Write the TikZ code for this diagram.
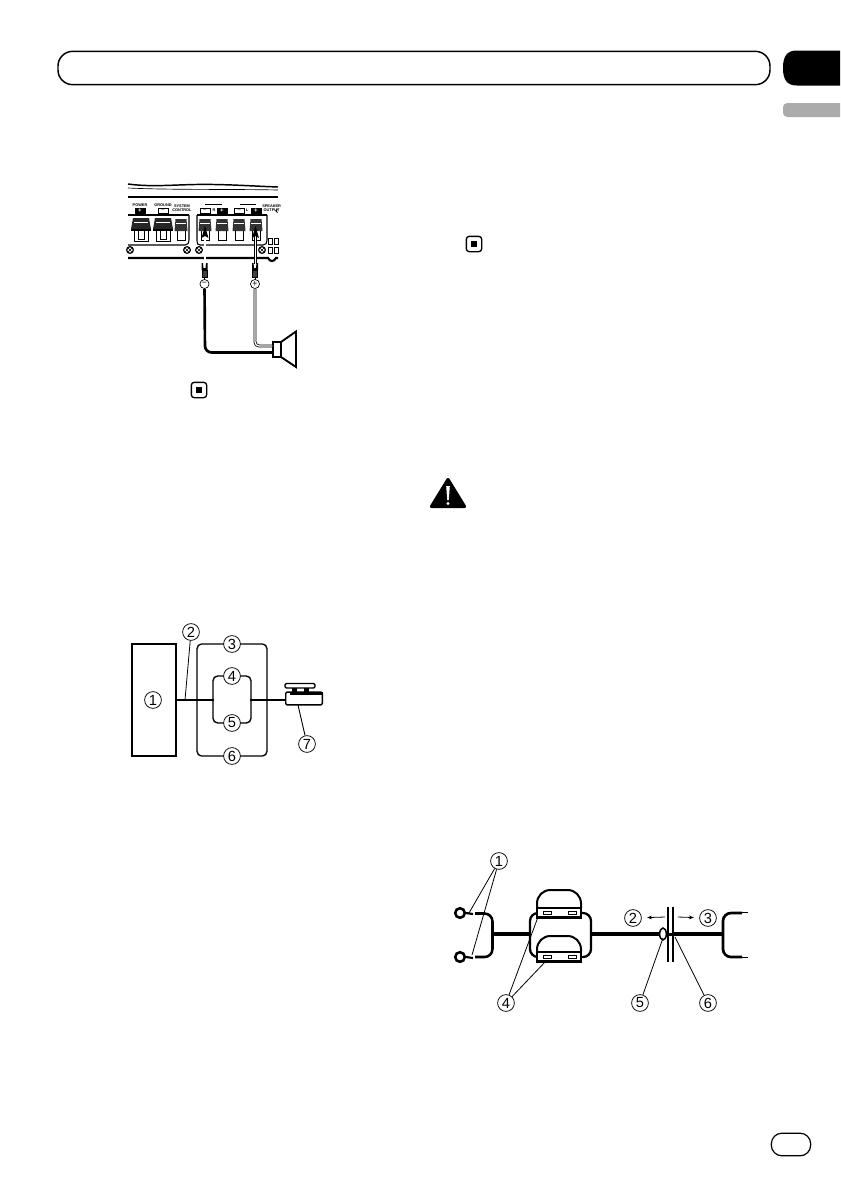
\documentclass[tikz,border=0pt]{standalone}
\usepackage{fontspec}
\setmainfont{Liberation Sans}
\usetikzlibrary{arrows.meta,calc,shapes.geometric}
\tikzset{
  x=0.75pt,y=-0.75pt,
  num/.style={circle,draw=black,line width=0.55pt,fill=white,inner sep=0pt,minimum size=12.6pt,font=\fontsize{11}{11}\selectfont},
  sign/.style={circle,draw=black,line width=0.5pt,fill=white,inner sep=0pt,minimum size=6.8pt,font=\fontsize{6.5}{6.5}\selectfont},
  leader/.style={draw=black,line width=0.6pt},
  thin wire/.style={draw=black,line width=1pt,rounded corners=3.5pt},
  fat wire/.style={draw=black,line width=2.6pt},
  mid wire/.style={draw=black,line width=1.9pt,rounded corners=6pt},
  hollow wire/.style={draw=black,line width=0.6pt,double=white,double distance=1pt,rounded corners=3pt},
  amp label/.style={inner sep=0pt,font=\bfseries\fontsize{2.9}{3.3}\selectfont,align=center},
  sign box/.style={draw=black,line width=0.5pt,inner sep=0pt,minimum width=7.5pt,minimum height=3.8pt,font=\bfseries\fontsize{4.5}{3}\selectfont},
  sign box dark/.style={sign box,fill=black,text=white},
  ampline/.style={draw=black,line width=0.8pt},
  screw/.style={circle,draw=black,line width=0.9pt,fill=white,inner sep=0pt,minimum size=5pt},
  stopicon/.style={draw=black,line width=1pt,rounded corners=2.2pt,minimum size=11.5pt,inner sep=0pt,fill=white},
  updouble/.style={draw=black,line width=0.5pt,double=white,double distance=0.9pt},
  ringterm/.style={circle,draw=black,line width=1.9pt,fill=white,inner sep=0pt,minimum size=7.2pt},
  slotbox/.style={draw=black,line width=0.6pt,fill=white,inner sep=0pt,minimum width=6pt,minimum height=2.4pt},
}
\begin{document}
\begin{tikzpicture}
\useasboundingbox[fill=white] (0,0) rectangle (840,1190);
% ---------- header
\node[draw=black,line width=1.1pt,rounded corners=11pt,minimum width=534pt,minimum height=25pt,inner sep=0pt] (bar) at (414,68) {};
\fill[black] (840,50.5) -- (797,50.5) .. controls (787,50.5) and (783,56) .. (783,68) .. controls (783,80) and (787,85.5) .. (797,85.5) -- (840,85.5) -- cycle;
\fill[black!33] (840,103) -- (787,103) .. controls (784,103) and (783,105) .. (783,110) .. controls (783,115) and (784,117) .. (787,117) -- (840,117) -- cycle;
\node[draw=black,line width=0.9pt,rounded corners=8pt,minimum width=29.5pt,minimum height=17pt,inner sep=0pt] (pageoval) at (791,1144.5) {};
% ---------- amplifier
\begin{scope}
\draw[ampline,line width=1.1pt] (128,184) .. controls (150,187) and (170,185) .. (195,184.5) .. controls (225,184) and (250,186) .. (278,187);
\draw[ampline,line width=0.5pt] (128,188) .. controls (170,190) and (230,189) .. (278,190);
\draw[ampline] (128,197) -- (278,197);
% panels
\draw[ampline] (128,245) -- (185,245) .. controls (188,245) and (189,243) .. (189,240) -- (189,215);
\draw[ampline] (128,215) -- (189,215);
\draw[ampline] (197,215) -- (267,215);
\draw[ampline] (197,215) -- (197,241) .. controls (197,244) and (198,245) .. (200,245) -- (263,245) .. controls (266,245) and (267,243) .. (267,240) -- (267,215);
\draw[black,line width=1.6pt] (128,258) -- (268,258) .. controls (270,262) and (274,262) .. (276,258) -- (278,258);
\foreach \i/\p in {a/130,b/187,c/199,d/262}{
  \node[screw] (screw\i) at (\p,250) {};
  \draw[line width=0.5pt] (\p-1.8,248.2) -- (\p+1.8,251.8) (\p+1.8,248.2) -- (\p-1.8,251.8);
}
% big terminals
\foreach \p in {141,163}{
  \fill[black!85] (\p-8,218) -- (\p+8,218) -- (\p+10,229) -- (\p-10,229) -- cycle;
  \draw[white,line width=0.6pt] (\p-7,222) -- (\p+7,222);
  \draw[ampline,line width=0.5pt] (\p-7,229) -- (\p-7,241) -- (\p+7,241) -- (\p+7,229);
  \draw[ampline,line width=0.5pt] (\p-3,229) -- (\p-3,239) -- (\p+3,239) -- (\p+3,229);
  \draw[black,line width=1pt] (\p-10,230) -- (\p+10,230);
}
% small terminals
\foreach \p in {181,205,222,239,256}{
  \fill[black!80] (\p-5.5,219) -- (\p+5.5,219) -- (\p+6.5,231) -- (\p-6.5,231) -- cycle;
  \draw[white,line width=0.5pt] (\p-5,223) -- (\p+5,223);
  \draw[ampline,line width=0.5pt] (\p-4,231) -- (\p-4,240) -- (\p+4,240) -- (\p+4,231);
}
\draw[ampline,line width=0.4pt] (205,204.5) -- (222,204.5) (240,204.5) -- (256,204.5);
\node[amp label] (lpower) at (140,205.5) {POWER};
\node[sign box dark] (bpower) at (140,210.5) {+};
\node[amp label] (lground) at (163,205.5) {GROUND};
\node[sign box] (bground) at (163,210.5) {−};
\node[amp label] (lsystem) at (182,208) {SYSTEM\\CONTROL};
\node[sign box] (b1) at (205,210.5) {−};
\node[amp label] (lr) at (214,210.5) {R};
\node[sign box dark] (b2) at (222,210.5) {+};
\node[sign box] (b3) at (239,210.5) {−};
\node[amp label] (ll) at (247,210.5) {L};
\node[sign box dark] (b4) at (256,210.5) {+};
\node[amp label,anchor=west] (lspk) at (262,208) {SPEAKER\\OUTPUT};
\foreach \i/\p/\q in {a/270/241,b/276/241,c/270/250,d/276/250}{
  \node[draw=black,line width=0.4pt,inner sep=0pt,minimum width=3pt,minimum height=4.8pt] (sq\i) at (\p,\q) {};
}
\draw[black,line width=0.7pt] (277.5,212.5) arc (90:270:1.6);
\end{scope}
% spade connectors
\foreach \n/\p in {l/204.5,r/255}{
  \fill[black] (\p-3,263) -- (\p-3,270) -- (\p+3,270) -- (\p+3,263) -- (\p+1.5,263) -- (\p+1,268) -- (\p-1,268) -- (\p-1.5,263) -- cycle;
  \node[draw=black,fill=black!75,inner sep=0pt,minimum width=4pt,minimum height=5.5pt] (spade\n) at (\p,274) {};
  \draw[black,line width=0.5pt] (\p,277.5) -- (\p,280);
}
\coordinate (tipl) at (205,226);
\coordinate (tipr) at (255.5,226);
\draw[updouble] (205,264) -- (205,236);
\draw[updouble] (255.5,264) -- (255.5,236);
\fill[black] (tipl) -- (201.5,238) -- (205,236) -- (208.5,238) -- cycle;
\fill[black] (tipr) -- (252,238) -- (255.5,236) -- (259,238) -- cycle;
\node[sign] (minus) at (204.5,284) {−};
\node[sign] (plus) at (255,284) {+};
% speaker
\draw[black,line width=1.4pt,fill=white] (281,342) -- (296,331.5) -- (296,367) -- (281,357) -- cycle;
\node[draw=black,line width=1.4pt,fill=white,inner sep=0pt,minimum width=5.6pt,minimum height=11.4pt] (spk) at (277,349.5) {};
\draw[hollow wire] (plus) -- (255,346) -- (spk.west |- 0,346);
\draw[black,line width=2pt,rounded corners=5pt] (minus) -- (205,352.5) -- (spk.west |- 0,352.5);
\node[stopicon] (stopa) at (199,390) {};
\fill[black] (196,387) rectangle (202,393);
\node[stopicon] (stopb) at (474,244) {};
\fill[black] (471,241) rectangle (477,247);
% warning
\draw[black,fill=black,line width=2.4pt,line join=round] (448,479.5) -- (431.5,506.5) -- (464.5,506.5) -- cycle;
\fill[white] (446.2,486) -- (449.8,486) -- (448.8,500) -- (447.2,500) -- cycle;
\fill[white] (448,503.5) circle (1.6);
% ---------- fuse diagram
\node[draw=black,line width=1.5pt,fill=white,minimum width=32.5pt,minimum height=84pt,inner sep=0pt] (unit) at (154,699.5) {};
\node[num] (f1) at (153,700) {1};
\node[draw=black,fill=white,line width=1pt,inner sep=0pt,minimum width=27.5pt,minimum height=9.6pt,rounded corners=1pt] (fusebox) at (304,698.5) {};
\fill[black] (290,691.5) rectangle (323,695);
\draw[black,line width=1.1pt,rounded corners=1pt] (285,683.5) -- (315,683.5) -- (315,688) -- (285,688) -- cycle;
\fill[black] (292,688) rectangle (297,692);
\fill[black] (304,688) rectangle (309,692);
\coordinate (jl) at (197,700); \coordinate (jr) at (267,700);
\coordinate (il) at (213,700); \coordinate (ir) at (251,700);
\draw[thin wire] (unit.east |- 0,700) -- (il);
\draw[thin wire] (ir) -- (fusebox.west |- 0,700);
\draw[thin wire] (jl) -- (197,644) -- (267,644) -- (jr);
\draw[thin wire] (jl) -- (197,756) -- (267,756) -- (jr);
\draw[thin wire] (il) -- (213,676) -- (251,676) -- (ir);
\draw[thin wire] (il) -- (213,723) -- (251,723) -- (ir);
\foreach \c in {jl,jr,il,ir}{\fill[black] (\c) circle (1.3);}
\node[num] (f2) at (191,632) {2};
\node[num] (f3) at (232,644) {3};
\node[num] (f4) at (232,676) {4};
\node[num] (f5) at (232,723) {5};
\node[num] (f6) at (232,756) {6};
\node[num] (f7) at (307,744) {7};
\coordinate (f2end) at (185,700);
\coordinate (f7end) at (298,705);
\draw[leader] (f2) -- (f2end);
\draw[leader,line width=0.7pt] (f7) -- (f7end);
% ---------- ferrite diagram
\draw[mid wire] (475,913.5) -- (492.5,913.5) -- (492.5,957) -- (475,957);
\draw[fat wire] (492,934) -- (530,934);
\draw[fat wire] (591,934) -- (723,934);
\draw[mid wire,line width=1.7pt] (530,934) -- (530,913) -- (591,913) -- (591,957) -- (530,957) -- cycle;
\draw[mid wire,line width=2pt] (742,913) -- (723,913) -- (723,957) -- (742,957);
\draw[black,line width=0.6pt] (740,912.5) -- (748,912.5) (740,957) -- (748,957);
\foreach \n/\q in {a/913,b/957}{
  \node[ringterm] (ring\n) at (460,\q) {};
  \draw[black,line width=1.6pt] (ring\n.east) -- (473,\q+1);
}
\foreach \n/\t/\h in {a/890/28,b/936/26}{
  \draw[black,line width=1.5pt,fill=white,rounded corners=10pt] (537,\t+\h-10) -- (537,\t) -- (581,\t) -- (581,\t+\h-10);
  \draw[black,line width=0.8pt,fill=white] (537,\t+\h-10) rectangle (581,\t+\h);
  \fill[black] (537,\t+\h-2.5) rectangle (581,\t+\h+0.8);
  \node[slotbox] (slot1\n) at (547,\t+\h-5.5) {};
  \node[slotbox] (slot2\n) at (572,\t+\h-5.5) {};
}
\fill[white] (668,930) rectangle (673,938);
\draw[black,line width=1.1pt] (668,907) -- (668,962) (673,907) -- (673,962);
\fill[black] (667,932.5) rectangle (674,935.5);
\node[ellipse,draw=black,line width=1.1pt,fill=white,inner sep=0pt,minimum width=5pt,minimum height=9pt] (grommet) at (663,934) {};
\node[num] (c1) at (499,861) {1};
\node[num] (c2) at (633,918) {2};
\node[num] (c3) at (708,918) {3};
\node[num] (c4) at (506,1003) {4};
\node[num] (c5) at (640,1003) {5};
\node[num] (c6) at (708,1003) {6};
\coordinate (wallL) at (665,917);
\coordinate (wallR) at (678,917);
\draw[black,line width=0.6pt,-{Stealth[length=3.6pt,width=2.8pt]},shorten >=4pt] (wallL) -- (c2);
\draw[black,line width=0.6pt,-{Stealth[length=3.6pt,width=2.8pt]},shorten >=4pt] (wallR) -- (c3);
\coordinate (e1a) at (469,913);
\coordinate (e1b) at (472,955);
\coordinate (e4a) at (538,917);
\coordinate (e4b) at (546,961);
\coordinate (e5) at (663,938);
\coordinate (e6) at (675,937);
\draw[leader] (c1) -- (e1a);
\draw[leader] (c1) -- (e1b);
\draw[leader] (c4) -- (e4a);
\draw[leader] (c4) -- (e4b);
\draw[leader] (c5) -- (e5);
\draw[leader] (c6) -- (e6);
\end{tikzpicture}
\end{document}
